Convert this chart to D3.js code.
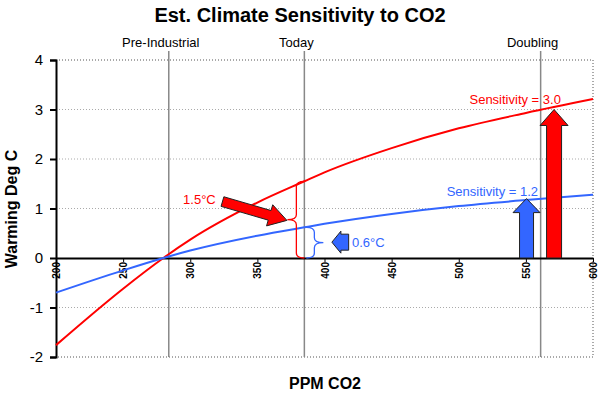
<!DOCTYPE html>
<meta charset="utf-8">
<style>
  body { margin: 0; background: #fff; }
  svg { font-family: "Liberation Sans", Arial, sans-serif; }
  .grid line { stroke: #aaa; stroke-dasharray: 1,2; }
  .frame { stroke: #555; stroke-dasharray: 1,2; fill: none; }
  .yaxis text { font-size: 15px; fill: #000; }
  .xaxis text { font-size: 10px; font-weight: bold; fill: #000; }
  .ann { font-size: 13px; }
</style>
<svg width="600" height="394"></svg>
<script src="https://cdn.jsdelivr.net/npm/d3@7"></script>
<script>

// data
var ppm        = [200, 250, 280, 300, 350, 385, 400, 450, 500, 550, 600];
var sens30     = [-1.76, -0.62, 0, 0.37, 1.12, 1.55, 1.73, 2.22, 2.62, 2.93, 3.21];
var sens12     = [-0.70, -0.25, 0, 0.15, 0.45, 0.62, 0.69, 0.89, 1.05, 1.17, 1.28];
var markers    = ["Pre-Industrial", "Today", "Doubling"];
var markerPpm  = [284, 385, 561];
var xTicks     = [200, 250, 300, 350, 400, 450, 500, 550, 600];
var yTicks     = [-2, -1, 0, 1, 2, 3, 4];

var red = "#ff0000", blue = "#3366ff";

var svg = d3.select("svg");
var x = d3.scaleLinear().domain([200, 600]).range([56, 593]);
var y = d3.scaleLinear().domain([-2, 4]).range([357, 60]);

// title + axis titles
svg.append("text").attr("x", 300).attr("y", 22).attr("text-anchor", "middle")
  .style("font-size", "20px").style("font-weight", "bold").text("Est. Climate Sensitivity to CO2");
svg.append("text").attr("transform", "translate(17,209) rotate(-90)").attr("text-anchor", "middle")
  .style("font-size", "16px").style("font-weight", "bold").text("Warming Deg C");
svg.append("text").attr("x", 325).attr("y", 389).attr("text-anchor", "middle")
  .style("font-size", "16px").style("font-weight", "bold").text("PPM CO2");

// dotted grid
svg.append("g").attr("class", "grid").selectAll("line")
  .data(yTicks.filter(function(d) { return d != 0 && d != -2 && d != 4; }))
  .enter().append("line")
  .attr("x1", x(200)).attr("x2", x(600))
  .attr("y1", function(d) { return y(d); }).attr("y2", function(d) { return y(d); });
svg.append("path").attr("class", "frame")
  .attr("d", "M" + x(200) + "," + y(4) + "H" + x(600) + "V" + y(-2) + "H" + x(200));

// reference lines
var mk = svg.append("g");
mk.selectAll("line").data(markerPpm).enter().append("line")
  .attr("x1", function(d) { return x(d); }).attr("x2", function(d) { return x(d); })
  .attr("y1", 51).attr("y2", y(-2))
  .attr("stroke", "#888").attr("stroke-width", 1.5);
mk.selectAll("text").data(markers).enter().append("text")
  .attr("x", function(d, i) { return x(markerPpm[i]) - 8; }).attr("y", 47)
  .attr("text-anchor", "middle").style("font-size", "13px").text(function(d) { return d; });

// axes
var ya = svg.append("g").attr("class", "yaxis").attr("transform", "translate(" + x(200) + ",0)")
  .call(d3.axisLeft(y).tickValues(yTicks).tickSize(6).tickPadding(7).tickFormat(function(d) { return String(d); }));
ya.selectAll("path, line").attr("stroke", "#000").attr("stroke-width", 2);

var xa = svg.append("g").attr("class", "xaxis").attr("transform", "translate(0," + y(0) + ")")
  .call(d3.axisBottom(x).tickValues(xTicks).tickSize(4).tickSizeOuter(0));
xa.select("path").attr("stroke", "#000").attr("stroke-width", 2);
xa.selectAll("line").attr("stroke", "#000");
xa.selectAll("text").attr("text-anchor", "end").attr("transform", "rotate(-90)")
  .attr("x", -4).attr("y", 0).attr("dy", "0.35em");

// curves
var line = d3.line().curve(d3.curveMonotoneX)
  .x(function(d) { return x(d[0]); }).y(function(d) { return y(d[1]); });
[[sens30, red], [sens12, blue]].forEach(function(s) {
  svg.append("path").datum(d3.zip(ppm, s[0])).attr("d", line)
    .attr("fill", "none").attr("stroke", s[1]).attr("stroke-width", 2);
});

// block arrows
function blockArrow(x0, y0, x1, y1, sw, hw, hl) {
  var dx = x1 - x0, dy = y1 - y0, L = Math.hypot(dx, dy);
  var ux = dx / L, uy = dy / L, nx = -uy, ny = ux;
  var bx = x1 - ux * hl, by = y1 - uy * hl;
  var p = [
    [x0 + nx * sw, y0 + ny * sw], [bx + nx * sw, by + ny * sw], [bx + nx * hw, by + ny * hw],
    [x1, y1],
    [bx - nx * hw, by - ny * hw], [bx - nx * sw, by - ny * sw], [x0 - nx * sw, y0 - ny * sw]
  ];
  return "M" + p.join("L") + "Z";
}
var arrows = [
  { from: [324, 1.14], to: [372, 0.76], sw: 5, hw: 11, hl: 18, c: red },
  { from: [418, 0.32], to: [405.5, 0.32], sw: 8, hw: 11, hl: 9, c: blue },
  { from: [550.5, 0], to: [550.5, 1.2], sw: 7, hw: 13.5, hl: 14, c: blue },
  { from: [571, 0], to: [571, 3.0], sw: 7.5, hw: 14, hl: 16, c: red }
];
svg.append("g").selectAll("path").data(arrows).enter().append("path")
  .attr("d", function(d) { return blockArrow(x(d.from[0]), y(d.from[1]), x(d.to[0]), y(d.to[1]), d.sw, d.hw, d.hl); })
  .attr("fill", function(d) { return d.c; }).attr("stroke", "#222").attr("stroke-width", 1);

// braces at "Today"
function brace(xe, xs, xt, y1, y2) {
  var ym = (y1 + y2) / 2, r = 5;
  return "M" + xe + "," + y1 + "Q" + xs + "," + y1 + " " + xs + "," + (y1 + r) +
    "L" + xs + "," + (ym - r) + "Q" + xs + "," + ym + " " + xt + "," + ym +
    "Q" + xs + "," + ym + " " + xs + "," + (ym + r) +
    "L" + xs + "," + (y2 - r) + "Q" + xs + "," + y2 + " " + xe + "," + y2;
}
var braces = [
  { top: 1.55, bottom: 0, e: 0, s: -8, t: -17, c: red },
  { top: 0.62, bottom: 0, e: 2, s: 10, t: 19, c: blue }
];
svg.append("g").selectAll("path").data(braces).enter().append("path")
  .attr("d", function(d) { var bx = x(385); return brace(bx + d.e, bx + d.s, bx + d.t, y(d.top), y(d.bottom)); })
  .attr("fill", "none").attr("stroke", function(d) { return d.c; }).attr("stroke-width", 1.3);

// annotation labels
var labels = [
  { t: "1.5°C", p: 319, v: 1.09, a: "end", c: red },
  { t: "0.6°C", p: 420.5, v: 0.22, a: "start", c: blue },
  { t: "Sensitivity = 3.0", p: 508, v: 3.11, a: "start", c: red },
  { t: "Sensitivity = 1.2", p: 491, v: 1.26, a: "start", c: blue }
];
svg.append("g").selectAll("text").data(labels).enter().append("text")
  .attr("class", "ann").attr("x", function(d) { return x(d.p); }).attr("y", function(d) { return y(d.v); })
  .attr("text-anchor", function(d) { return d.a; }).attr("fill", function(d) { return d.c; })
  .text(function(d) { return d.t; });

</script>
